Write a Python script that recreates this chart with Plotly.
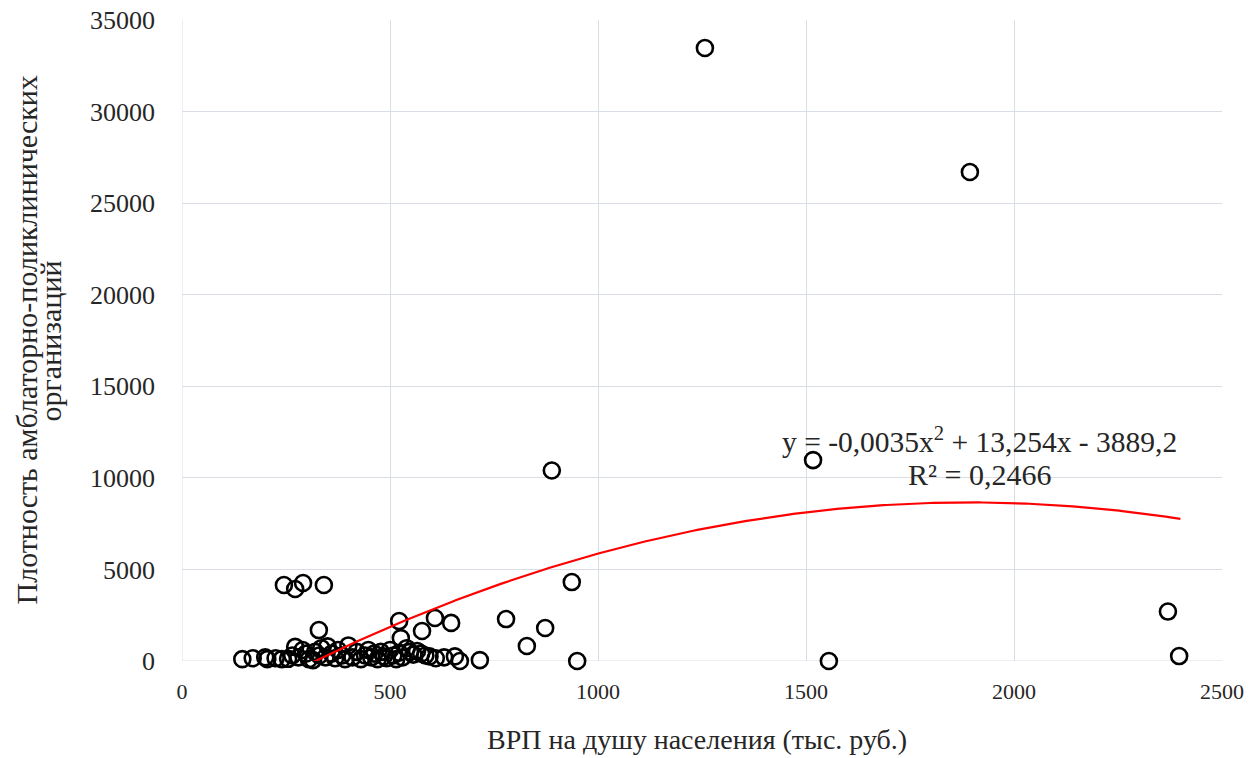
import numpy as np
import plotly.graph_objects as go

# GRP per capita (thousand rubles)
grp = [145, 170, 200, 205, 225, 240, 255, 265, 272, 280, 290, 298, 305, 315, 320, 330, 335, 345,
       350, 360, 368, 375, 385, 392, 400, 410, 420, 430, 440, 448, 455, 462, 470, 478, 485, 492,
       500, 508, 515, 522, 530, 540, 548, 556, 565, 575, 585, 595, 610, 630, 656, 668, 716,
       245, 272, 291, 341, 329, 522, 608, 647, 577, 526, 937, 779, 873, 829, 950, 889,
       1257, 1894, 1517, 1555, 2370, 2397]
# Density of outpatient organisations
density = [100, 150, 200, 100, 150, 100, 120, 300, 770, 200, 600, 400, 100, 50, 500, 300, 700, 200,
           800, 400, 150, 600, 300, 100, 850, 200, 500, 100, 300, 600, 200, 400, 100, 500, 250, 150,
           600, 300, 100, 450, 200, 700, 500, 350, 550, 400, 300, 250, 150, 200, 250, 0, 50,
           4150, 3930, 4260, 4150, 1690, 2180, 2350, 2080, 1640, 1250, 4310, 2290, 1800, 820, 0, 10400,
           33470, 26700, 10970, 0, 2700, 270]

# polynomial trend coefficients (a, b, c)
coef = [-0.0035, 13.254, -3889.2]
trend_range = [308, 2400]

x_ticks = [0, 500, 1000, 1500, 2000, 2500]
y_ticks = [0, 5000, 10000, 15000, 20000, 25000, 30000, 35000]
y_tick_text = ["0", "5000", "10000", "15000", "20000", "25000", "30000", "35000"]

xt = np.linspace(trend_range[0], trend_range[1], 300)
yt = coef[0] * xt ** 2 + coef[1] * xt + coef[2]

font = "Liberation Serif, Times New Roman, serif"
grid = "#d9dde6"
txt = "#262626"

fig = go.Figure()
fig.add_trace(go.Scatter(
    x=grp, y=density, mode="markers", cliponaxis=False,
    marker=dict(symbol="circle-open", size=16, color="black", line=dict(width=2.6)),
    showlegend=False, hoverinfo="x+y"))
fig.add_trace(go.Scatter(
    x=xt, y=yt, mode="lines", line=dict(color="#ff0000", width=2.2),
    showlegend=False, hoverinfo="skip"))

fig.add_annotation(x=1916, y=12070, xref="x", yref="y", xanchor="center", yanchor="middle",
                   text="y = -0,0035x<sup>2</sup> + 13,254x - 3889,2",
                   showarrow=False, font=dict(family=font, size=29.5, color=txt))
fig.add_annotation(x=1916, y=10210, xref="x", yref="y", xanchor="center", yanchor="middle",
                   text="R² = 0,2466",
                   showarrow=False, font=dict(family=font, size=30, color=txt))

# axis titles
fig.add_annotation(x=-0.1500, y=0.5, xref="paper", yref="paper", textangle=-90,
                   xanchor="center", yanchor="middle",
                   text="Плотность амблаторно-поликлинических",
                   showarrow=False, font=dict(family=font, size=30, color=txt))
fig.add_annotation(x=-0.1260, y=0.5, xref="paper", yref="paper", textangle=-90,
                   xanchor="center", yanchor="middle",
                   text="организаций",
                   showarrow=False, font=dict(family=font, size=30, color=txt))
fig.add_annotation(x=0.495, y=-0.1490, xref="paper", yref="paper",
                   xanchor="center", yanchor="bottom",
                   text="ВРП на душу населения (тыс. руб.)",
                   showarrow=False, font=dict(family=font, size=28, color=txt))

fig.update_layout(
    width=1258, height=758,
    margin=dict(l=182, r=36, t=20, b=97, autoexpand=False),
    paper_bgcolor="white", plot_bgcolor="white",
    font=dict(family=font, size=22, color=txt),
    xaxis=dict(range=[0, 2500], tickvals=x_ticks, showgrid=True, gridcolor=grid, gridwidth=1,
               zeroline=False, showline=False, ticks="", automargin=False,
               ticklabelstandoff=15, tickfont=dict(size=22), ticklabeloverflow="allow"),
    yaxis=dict(range=[0, 35000], tickvals=y_ticks, ticktext=y_tick_text, showgrid=True,
               gridcolor=grid, gridwidth=1, zeroline=False, showline=False, ticks="",
               automargin=False, ticklabelstandoff=26, tickfont=dict(size=26),
               ticklabeloverflow="allow"),
)
fig.add_shape(type="line", xref="x", yref="y", x0=0, x1=0, y0=0, y1=35000,
              line=dict(color=grid, width=1), layer="below")
fig.add_shape(type="line", xref="x", yref="y", x0=0, x1=2500, y0=0, y1=0,
              line=dict(color=grid, width=1), layer="below")

fig.write_html("out.html", config={"displayModeBar": False},
               post_script="document.body.style.margin='0';")
